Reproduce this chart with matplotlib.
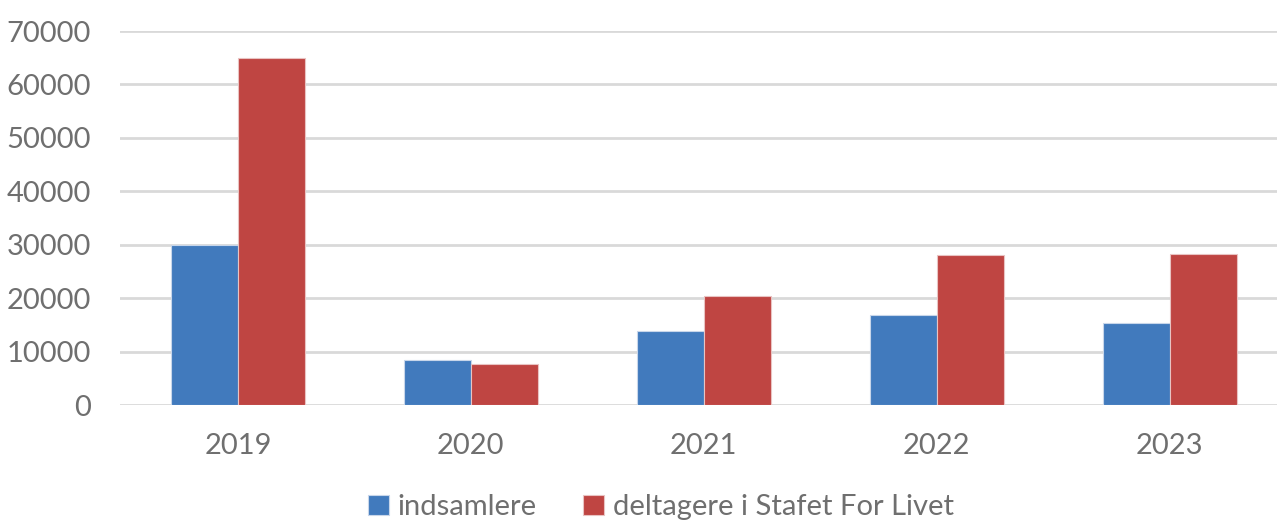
import matplotlib.pyplot as plt
import numpy as np

years = ["2019", "2020", "2021", "2022", "2023"]
indsamlere = [30000, 8400, 13900, 16900, 15300]
deltagere = [65000, 7650, 20400, 28100, 28200]

plt.rcParams['font.family'] = ['Lato', 'DejaVu Sans']
grey = '#6f6f6f'

fig = plt.figure(figsize=(12.77, 5.22), dpi=100)
ax = fig.add_axes([120/1277, 1-405/522, 1-120/1277, (405-31)/522])

x = np.arange(len(years))
w = 0.287
b1 = ax.bar(x - w/2, indsamlere, w, color='#417ABD', edgecolor='#c8d6ea', linewidth=0.8,
            label='indsamlere', zorder=3)
b2 = ax.bar(x + w/2, deltagere, w, color='#BF4542', edgecolor='#e9c3c2', linewidth=0.8,
            label='deltagere i Stafet For Livet', zorder=3)

ax.set_xlim(-0.506, 4.46)
ax.set_ylim(0, 70000)
ax.set_yticks(range(0, 70001, 10000))
ax.set_xticks(x)
ax.set_xticklabels(years)
ax.yaxis.grid(True, color='#d9d9d9', linewidth=2, zorder=0)
for s in ax.spines.values():
    s.set_visible(False)
ax.tick_params(axis='both', length=0, labelsize=21, colors=grey)
ax.tick_params(axis='y', pad=21)
ax.tick_params(axis='x', pad=20)

leg = fig.legend(handles=[b1, b2], loc='center', bbox_to_anchor=(661/1277, 1-507/522),
                 ncol=2, frameon=False, fontsize=21, handlelength=0.7, handleheight=0.7,
                 handletextpad=0.3, columnspacing=1.6, labelcolor=grey)

fig.savefig('out.png', dpi=100)
